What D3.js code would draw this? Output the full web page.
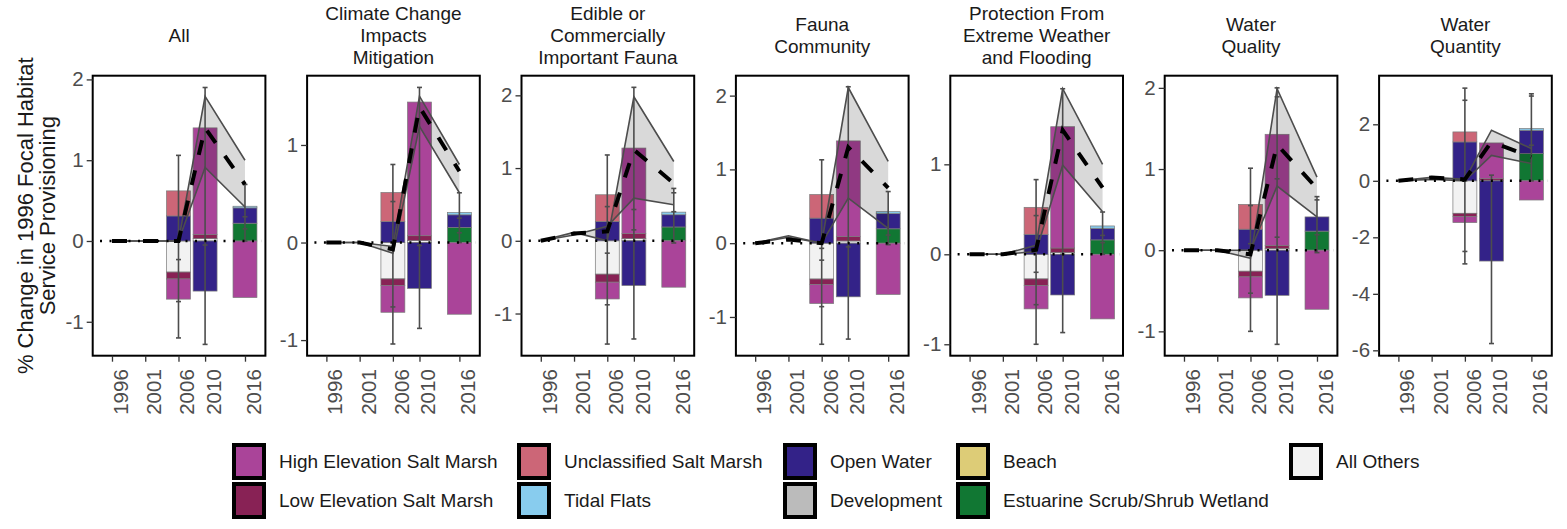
<!DOCTYPE html>
<html><head><meta charset="utf-8">
<script src="https://cdn.jsdelivr.net/npm/d3@7"></script>
<style>body{margin:0;background:#fff}svg{display:block}text{font-family:"Liberation Sans",Arial,sans-serif}</style>
</head><body><svg id="c" width="1567" height="529"></svg>
<script>
const panelTitles = [["All"],["Climate Change","Impacts","Mitigation"],["Edible or","Commercially","Important Fauna"],["Fauna","Community"],["Protection From","Extreme Weather","and Flooding"],["Water","Quality"],["Water","Quantity"]];
const years = [1996, 2001, 2006, 2010, 2016];
const barYears = [2006, 2010, 2016];
const categories = ["High Elevation Salt Marsh","Low Elevation Salt Marsh","Unclassified Salt Marsh","Tidal Flats","Open Water","Development","Beach","Estuarine Scrub/Shrub Wetland","All Others"];
const catColors = ["#AA4499","#882255","#CC6677","#88CCEE","#332288","#BBBBBB","#DDCC77","#117733","#F2F2F2"];
const yLimits = [[-1.42,2.046],[-1.16,1.71],[-1.58,2.27],[-1.525,2.27],[-1.127,1.985],[-1.30,2.15],[-6.19,3.72]];
const yTicks = [[-1,0,1,2],[-1,0,1],[-1,0,1,2],[-1,0,1,2],[-1,0,1],[-1,0,1,2],[-6,-4,-2,0,2]];
// per panel, per bar year, values per category (legend order)
const barValues = [
 [[-0.25,-0.085,0.31,0,0.31,0,0,0,-0.385],[1.32,0.05,0,0,-0.62,0,0,0,0.03],[-0.70,0,0,0.02,0.19,0,0,0.22,0]],
 [[-0.275,-0.067,0.298,0,0.215,0,0,0,-0.373],[1.37,0.05,0,0,-0.47,0,0,0,0.02],[-0.735,0,0,0.024,0.129,0,0,0.155,0]],
 [[-0.231,-0.11,0.367,0,0.266,0,0,0,-0.459],[1.175,0.07,0,0,-0.615,0,0,0,0.03],[-0.638,0,0,0.036,0.168,0,0,0.19,0]],
 [[-0.259,-0.073,0.32,0,0.34,0,0,0,-0.486],[1.296,0.06,0,0,-0.727,0,0,0,0.03],[-0.695,0,0,0.027,0.205,0,0,0.195,0]],
 [[-0.259,-0.074,0.30,0,0.222,0,0,0,-0.274],[1.348,0.05,0,0,-0.452,0,0,0,0.02],[-0.718,0,0,0.026,0.129,0,0,0.16,0]],
 [[-0.259,-0.07,0.305,0,0.259,0,0,0,-0.259],[1.368,0.04,0,0,-0.556,0,0,0,0.02],[-0.728,0,0,0,0.175,0,0,0.235,0]],
 [[-0.21,-0.12,0.354,0,1.376,0,0,0,-1.15],[1.26,0.06,0,0,-2.84,0,0,0,0.02],[-0.68,0,0,0.06,0.825,0,0,0.965,0]]
];
const meanLine = [[0,0,0,1.40,0.70],[0,0,-0.07,1.39,0.73],[0,0.1,0.13,1.25,0.79],[0,0.05,0,1.30,0.75],[0,0,0.05,1.38,0.74],[0,0,-0.05,1.30,0.76],[0,0.12,0.05,1.38,0.85]];
const rangeUpper = [[0,0,0,1.79,1.0],[0,0,-0.04,1.50,0.80],[0,0.115,0,1.98,1.09],[0,0.1,0,2.11,1.11],[0,0,0.1,1.84,1.0],[0,0,-0.1,1.99,0.9],[0,0.12,0.05,1.79,1.14]];
const rangeLower = [[0,0,0,0.91,0.42],[0,0,-0.11,1.19,0.51],[0,0.08,0.2,0.587,0.495],[0,0.08,0,0.61,0.2],[0,0,0.03,0.99,0.474],[0,0,0,0.79,0.41],[0,0.05,0,0.9,0.61]];
const errorCaps = [
 [[-1.2,-0.75,-0.23,0,1.06],[-1.28,-0.05,1.9],[0,0.15,0.3,0.7]],
 [[-1.04,-0.66,0.42,0.8],[-0.88,-0.03,1.59],[0,0.1,0.25,0.51]],
 [[-1.42,-0.88,-0.17,0.47,1.18],[-1.35,0.15,0.43,2.11],[-0.03,0.4,0.66,0.72]],
 [[-1.37,-0.86,-0.23,-0.07,1.13],[-1.30,-0.05,2.12],[-0.02,0.11,0.7]],
 [[-1.0,-0.56,-0.2,0.43,0.83],[-0.87,0,1.84],[0,0.13,0.21,0.47]],
 [[-1.0,-0.53,0.08,0.55,1.01],[-1.16,0.16,0.88,1.89,2.0],[-0.03,0.19,0.62,0.66]],
 [[-2.94,-2.5,0,2.85,3.28],[-5.76,0.2],[0,1.26,3.0,3.08]]
];
const yTitle = ["% Change in 1996 Focal Habitat","Service Provisioning"];
const legendColumns = [[0,1],[2,3],[4,5],[6,7],[8]];

const svg = d3.select("#c");
const P = {left0: 92.7, pitch: 214.4, w: 172.7, top: 75.7, bottom: 355.7};
const stackKeys = [8,7,6,5,4,3,2,1,0];
const barHalf = 1.8;
const FONT = "Liberation Sans, Arial, sans-serif";

panelTitles.forEach((title, p) => {
  const left = P.left0 + p * P.pitch;
  const x = d3.scaleLinear().domain([1993.1, 2019.07]).range([left, left + P.w]);
  const y = d3.scaleLinear().domain(yLimits[p]).range([P.bottom, P.top]);
  const g = svg.append("g");

  // strip title
  const n = title.length;
  title.forEach((t, i) => {
    g.append("text").attr("x", left + P.w / 2).attr("y", 35 + (i - (n - 1) / 2) * 22 + 7)
      .attr("text-anchor", "middle").attr("font-size", 19).attr("fill", "#1A1A1A").text(t);
  });

  // bars
  const rows = barYears.map((yr, i) => {
    const o = {year: yr};
    barValues[p][i].forEach((v, k) => o[k] = v);
    return o;
  });
  const series = d3.stack().keys(stackKeys).offset(d3.stackOffsetDiverging)(rows);
  series.forEach(s => {
    g.append("g").selectAll("rect").data(s.filter(d => d[1] - d[0] !== 0)).join("rect")
      .attr("x", d => x(d.data.year - barHalf))
      .attr("width", d => x(d.data.year + barHalf) - x(d.data.year - barHalf))
      .attr("y", d => y(Math.max(d[0], d[1])))
      .attr("height", d => Math.abs(y(d[0]) - y(d[1])))
      .attr("fill", catColors[s.key]).attr("stroke", "#7a7a7a").attr("stroke-width", 0.7);
  });

  // ribbon
  const idx = d3.range(years.length);
  g.append("path").datum(idx)
    .attr("d", d3.area().x(i => x(years[i])).y0(i => y(rangeLower[p][i])).y1(i => y(rangeUpper[p][i])))
    .attr("fill", "#000").attr("fill-opacity", 0.15);
  [rangeUpper[p], rangeLower[p]].forEach(arr => {
    g.append("path").datum(idx)
      .attr("d", d3.line().x(i => x(years[i])).y(i => y(arr[i])))
      .attr("fill", "none").attr("stroke", "#4D4D4D").attr("stroke-width", 1.6);
  });

  // error bars
  barYears.forEach((yr, i) => {
    const caps = errorCaps[p][i];
    const xc = x(yr);
    g.append("line").attr("x1", xc).attr("x2", xc)
      .attr("y1", y(d3.min(caps))).attr("y2", y(d3.max(caps)))
      .attr("stroke", "#4D4D4D").attr("stroke-width", 1.6);
    g.append("g").selectAll("line").data(caps).join("line")
      .attr("x1", xc - 2.5).attr("x2", xc + 2.5).attr("y1", d => y(d)).attr("y2", d => y(d))
      .attr("stroke", "#4D4D4D").attr("stroke-width", 1.6);
  });

  // zero dotted line
  g.append("line").attr("x1", x(1994.2)).attr("x2", x(2018.5)).attr("y1", y(0)).attr("y2", y(0))
    .attr("stroke", "#000").attr("stroke-width", 2.4).attr("stroke-dasharray", "2,7.5");

  // mean dashed line
  g.append("path").datum(idx)
    .attr("d", d3.line().x(i => x(years[i])).y(i => y(meanLine[p][i])))
    .attr("fill", "none").attr("stroke", "#000").attr("stroke-width", 4).attr("stroke-dasharray", "15,16");

  // border
  g.append("rect").attr("x", left).attr("y", P.top).attr("width", P.w).attr("height", P.bottom - P.top)
    .attr("fill", "none").attr("stroke", "#000").attr("stroke-width", 2);

  // y axis
  const ya = g.append("g").attr("transform", `translate(${left},0)`)
    .call(d3.axisLeft(y).tickValues(yTicks[p]).tickSize(6).tickPadding(3).tickFormat(d => String(d)));
  ya.select(".domain").remove();
  ya.selectAll("line").attr("stroke", "#333").attr("stroke-width", 1.3);
  ya.selectAll("text").attr("font-size", 20.5).attr("fill", "#4D4D4D").attr("font-family", FONT);

  // x axis
  const xa = g.append("g").attr("transform", `translate(0,${P.bottom})`)
    .call(d3.axisBottom(x).tickValues(years).tickSize(6).tickFormat(d => String(d)));
  xa.select(".domain").remove();
  xa.selectAll("line").attr("stroke", "#333").attr("stroke-width", 1.3);
  xa.selectAll("text").attr("font-size", 20.5).attr("fill", "#4D4D4D").attr("font-family", FONT)
    .attr("text-anchor", "end").attr("y", 0).attr("dy", 0)
    .attr("transform", "translate(15.5,13.5) rotate(-90)");
});

// y title
const yt = svg.append("g").attr("transform", "translate(0,215.7) rotate(-90)");
yTitle.forEach((t, i) => {
  yt.append("text").attr("x", 0).attr("y", 33 + i * 22).attr("text-anchor", "middle")
    .attr("font-size", 22).attr("fill", "#1A1A1A").text(t);
});

// legend
const colLeft = [232, 517, 783, 956, 1289];
const rowTop = [443, 482];
legendColumns.forEach((col, c) => {
  col.forEach((k, r) => {
    const gx = colLeft[c], gy = rowTop[r];
    svg.append("rect").attr("x", gx + 2).attr("y", gy + 2).attr("width", 30).attr("height", 33)
      .attr("fill", catColors[k]).attr("stroke", "#000").attr("stroke-width", 4);
    svg.append("text").attr("x", gx + 47).attr("y", gy + 18.5).attr("dy", "0.35em")
      .attr("font-size", 19).attr("fill", "#1A1A1A").text(categories[k]);
  });
});
</script></body></html>
